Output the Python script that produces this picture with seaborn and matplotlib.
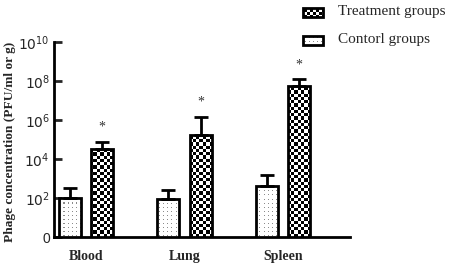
import numpy as np
import pandas as pd
import matplotlib
matplotlib.use("Agg")
import matplotlib.pyplot as plt
import seaborn as sns
from matplotlib.patches import Rectangle

# ---- data ----
tissues = ["Blood", "Lung", "Spleen"]
groups = ["Contorl groups", "Treatment groups"]
control_vals = [105, 95, 430]
control_err_top = [320, 270, 1550]
treatment_vals = [3.2e4, 1.8e5, 5.9e7]
treatment_err_top = [8.0e4, 1.5e6, 1.25e8]
ytick_vals = [1, 1e2, 1e4, 1e6, 1e8, 1e10]
ytick_labels = ["0", "$10^2$", "$10^4$", "$10^6$", "$10^8$", "$10^{10}$"]

df = pd.DataFrame({
    "tissue": tissues * 2,
    "group": [groups[0]] * 3 + [groups[1]] * 3,
    "value": control_vals + treatment_vals,
})

sns.set_style("white")
plt.rcParams["font.family"] = ["Liberation Sans", "DejaVu Sans"]

fig = plt.figure(figsize=(4.54, 2.66), dpi=100)
ax = fig.add_axes([54 / 454, 28.7 / 266, 296 / 454, 195 / 266])
ax.set_yscale("log")

sns.barplot(data=df, x="tissue", y="value", hue="group", hue_order=groups,
            order=tissues, width=0.66, gap=0.32, errorbar=None,
            palette=["white", "white"], edgecolor="black", linewidth=2,
            legend=False, ax=ax)

# patterns: checkerboard (treatment) and grey dots (control)
def checker_img(w, h, cell=1):
    ii, jj = np.meshgrid(np.arange(w), np.arange(h))
    c = ((ii // cell + jj // cell) % 2).astype(float)
    return np.stack([c] * 3, axis=-1)

def dot_img(w, h, step=4, grey=0.55):
    d = np.ones((h, w, 3))
    m = (np.arange(h)[:, None] % step == 1) & (np.arange(w)[None, :] % step == 1)
    d[m] = grey
    return d

ax_checker = checker_img(90, 60)
ax_dots = dot_img(296, 195)

bars = [p for p in ax.patches if isinstance(p, Rectangle)]
n = len(tissues)
for k, p in enumerate(bars):
    p.set_facecolor("none")
    p.set_zorder(3)
    img = ax_dots if k < n else ax_checker
    im = ax.imshow(img, extent=[0, 1, 0, 1], transform=ax.transAxes,
                   aspect="auto", interpolation="nearest", zorder=2)
    im.set_clip_path(p)

ax.set_xlim(-0.325, 2.68)
ax.set_ylim(1, 1e10)

# error bars (upper only) and significance stars
xs = np.arange(n)
off = 0.165
for vals, tops, sign in [(control_vals, control_err_top, -1),
                         (treatment_vals, treatment_err_top, 1)]:
    v = np.array(vals)
    t = np.array(tops)
    ax.errorbar(xs + sign * off, v, yerr=[np.zeros_like(v), t - v], fmt="none",
                ecolor="black", elinewidth=2, capsize=5, capthick=2, zorder=4)
for x, t in zip(xs + off, treatment_err_top):
    ax.text(x, t * 2.6, "*", ha="center", va="bottom", fontsize=10,
            family="Liberation Serif", color="#333333")

# axes styling
for s in ["top", "right"]:
    ax.spines[s].set_visible(False)
for s in ["left", "bottom"]:
    ax.spines[s].set_linewidth(2)
    ax.spines[s].set_color("black")
ax.set_yticks(ytick_vals)
ax.set_yticklabels(ytick_labels, fontsize=10, family="Liberation Sans")
ax.yaxis.set_minor_locator(matplotlib.ticker.NullLocator())
ax.tick_params(axis="y", direction="in", length=6, width=2, left=True, pad=3)
ax.tick_params(axis="x", length=0, pad=9)
ax.set_xticks(xs)
ax.set_xticklabels(tissues, fontsize=10, fontweight="bold", family="Liberation Serif")
ax.set_xlabel("")
ax.set_ylabel("Phage concentration (PFU/ml or g)", fontsize=9.6,
              fontweight="bold", family="Liberation Serif")
ax.yaxis.set_label_coords(-38 / 296, 0.49)

# legend (manual, in figure pixels)
def fig_rect(x0, y0, w, h, img):
    r = Rectangle((x0 / 454, 1 - (y0 + h) / 266), w / 454, h / 266,
                  transform=fig.transFigure, facecolor="none",
                  edgecolor="black", linewidth=2, zorder=5)
    fig.add_artist(r)
    im = ax.imshow(img, extent=[0, 1, 0, 1], transform=fig.transFigure,
                   aspect="auto", interpolation="nearest", zorder=4)
    im.set_clip_path(r)
    im.set_clip_on(True)

fig_rect(303, 8, 20, 9, checker_img(151, 89))
fig_rect(303, 36, 20, 9, dot_img(454, 266))
fig.text(338 / 454, 1 - 12 / 266, "Treatment groups", fontsize=11,
         family="Liberation Serif", va="center", ha="left")
fig.text(338 / 454, 1 - 40 / 266, "Contorl groups", fontsize=11,
         family="Liberation Serif", va="center", ha="left")

fig.savefig("out.png", dpi=100)
